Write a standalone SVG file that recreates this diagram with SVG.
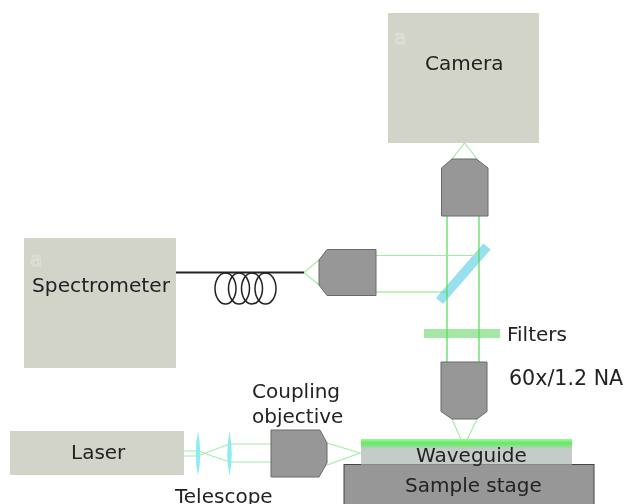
<svg xmlns="http://www.w3.org/2000/svg" width="624" height="504" viewBox="0 0 624 504">
<defs>
<style>
text{font-family:"DejaVu Sans",Verdana,sans-serif;font-size:20px;fill:#222}
.box{fill:#d2d4c9}
.obj{fill:#979797;stroke:#6a6a6a;stroke-width:1}
.beam{fill:none;stroke:#4be04b;stroke-width:1.2}
.faint{fill:none;stroke:#a4eca6;stroke-width:1.2}
.lens{fill:#8cecef}
.coil{fill:none;stroke:#222;stroke-width:1.5}
.mark{fill:none;stroke:#dfe1d3;stroke-width:1}
</style>
<linearGradient id="glow" x1="0" y1="0" x2="0" y2="1">
<stop offset="0" stop-color="#a0f5a0"/><stop offset="0.4" stop-color="#5cf05c"/><stop offset="1" stop-color="#c5cbc8"/>
</linearGradient>
<filter id="soft" x="0" y="0" width="100%" height="100%"><feGaussianBlur stdDeviation="0.4"/></filter>
</defs>
<g filter="url(#soft)">
<g id="mirror">
<line x1="439.500" y1="301" x2="487" y2="246.500" stroke="#98dff0" stroke-width="9.500"/>
</g>
<g id="filters">
<rect x="424" y="329" width="76" height="9" fill="#a5e8a5"/>
<text x="507" y="341">Filters</text>
</g>
<g id="connectors">
<path class="beam" d="M447 216V362M479 216V362"/>
<path class="faint" d="M452 159L464.500 143L477 159"/>
<path class="faint" d="M376 255.500H478"/>
<path class="beam" d="M376 292H447" stroke-opacity="0.7"/>
<path class="faint" d="M319 260L304 272.500L319 285"/>
<path class="faint" d="M452 419L464 446L477 419"/>
<path class="faint" d="M327 443L360 453L327 465"/>
<path class="faint" d="M184 451H198L229.500 462H271M184 456H198L229.500 444H271"/>
<path d="M176 272.500H304" fill="none" stroke="#222" stroke-width="1.8"/>
</g>
<g id="fiber-coil">
<ellipse class="coil" cx="225.500" cy="288.500" rx="10.500" ry="15.500"/>
<ellipse class="coil" cx="239" cy="288.500" rx="10.500" ry="15.500"/>
<ellipse class="coil" cx="252" cy="288.500" rx="10.500" ry="15.500"/>
<ellipse class="coil" cx="265.500" cy="288.500" rx="10.500" ry="15.500"/>
</g>
<g id="camera">
<rect class="box" x="388" y="13" width="151" height="130"/>
<text class="mark" x="394" y="44">a</text>
<text x="425" y="70">Camera</text>
</g>
<g id="camera-objective">
<polygon class="obj" points="441.500,168 452,159 476.500,159 488,168 488,216 441.500,216"/>
</g>
<g id="spectrometer">
<rect class="box" x="24" y="238" width="152" height="130"/>
<text class="mark" x="30" y="266">a</text>
<text x="32" y="292" style="font-size:20.200px">Spectrometer</text>
</g>
<g id="spectrometer-objective">
<polygon class="obj" points="376,249.500 327,249.500 319,260 319,285 327,295.500 376,295.500"/>
</g>
<g id="main-objective">
<polygon class="obj" points="441,362 487,362 487,411.500 477,419 452,419 441,411.500"/>
<text x="509" y="385" style="font-size:20.600px">60x/1.2 NA</text>
</g>
<g id="sample-stage">
<rect x="344" y="464.500" width="250" height="45" fill="#979797" stroke="#444" stroke-width="1"/>
<text x="405" y="492">Sample stage</text>
</g>
<g id="waveguide">
<rect x="361" y="440" width="211" height="24.500" fill="#c5cbc8"/>
<rect x="361" y="439" width="211" height="10" fill="url(#glow)"/>
<text x="416" y="462">Waveguide</text>
</g>
<g id="laser">
<rect class="box" x="10" y="431" width="174" height="44"/>
<text x="71" y="459">Laser</text>
</g>
<g id="telescope">
<path class="lens" d="M198 431Q202.500 453.500 198 476Q193.500 453.500 198 431Z"/>
<path class="lens" d="M229.500 431Q234 453.500 229.500 476Q225 453.500 229.500 431Z"/>
<text x="175" y="503">Telescope</text>
</g>
<g id="coupling-objective">
<polygon class="obj" points="271,430 320,430 327,443 327,463 319,477 271,477"/>
<text x="252" y="398">Coupling</text>
<text x="252" y="423">objective</text>
</g>
</g>
</svg>
